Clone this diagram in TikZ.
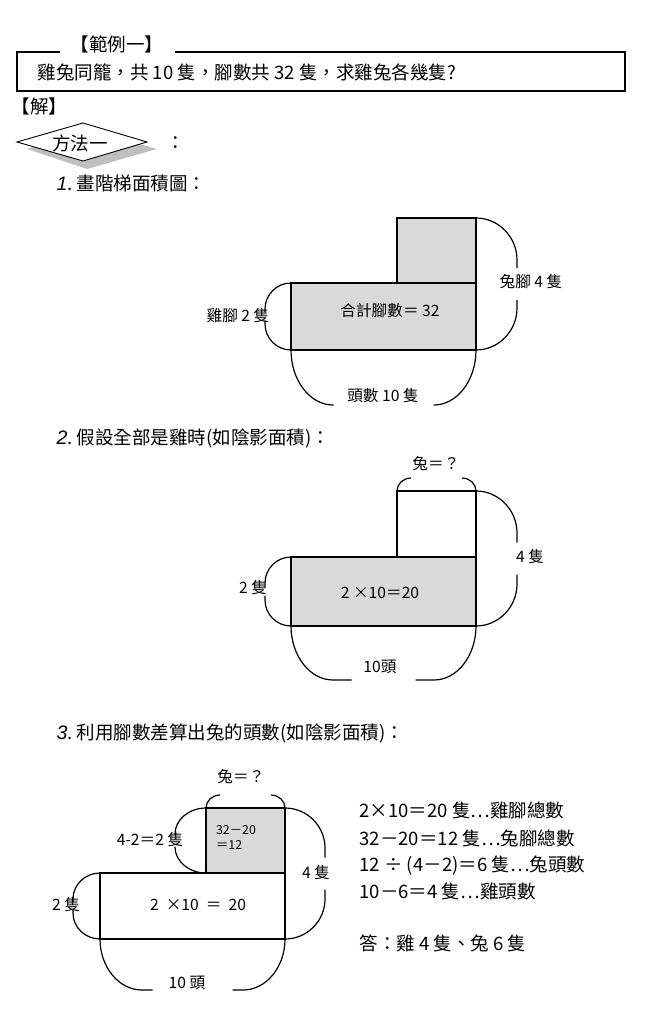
\documentclass[tikz,border=0pt]{standalone}
\usepackage{fontspec}
\setmainfont{Liberation Serif}
\newfontfamily\cjk{Noto Sans CJK TC}[Scale=0.95]
\newfontfamily\numsf{Liberation Sans}
\usetikzlibrary{positioning}
\tikzset{every picture/.style={line width=1.2pt}}
\tikzset{lbl/.style={font=\fontsize{16.5}{19}\selectfont\cjk, inner sep=1pt},
  txt/.style={font=\fontsize{19.5}{24}\selectfont\cjk, inner sep=1pt, anchor=west},
  shade/.style={fill=black!15}}
% vertical bracket: x, ytop, ybot, bulge x, radius, half gap
\newcommand{\vbr}[6]{%
\draw (#1,#2) .. controls ({(#1+#4)/2+0.05*(#4-#1)},#2) and (#4,{#2+0.45*#5}) .. (#4,{#2+#5}) -- (#4,{(#2+#3)/2-#6});
\draw (#4,{(#2+#3)/2+#6}) -- (#4,{#3-#5}) .. controls (#4,{#3-0.45*#5}) and ({(#1+#4)/2+0.05*(#4-#1)},#3) .. (#1,#3);}
% horizontal bracket: y, xleft, xright, bulge y, radius, half gap
\newcommand{\hbr}[6]{%
\draw (#2,#1) .. controls (#2,{(#1+#4)/2+0.05*(#4-#1)}) and ({#2+0.45*#5},#4) .. ({#2+#5},#4) -- ({(#2+#3)/2-#6},#4);
\draw ({(#2+#3)/2+#6},#4) -- ({#3-#5},#4) .. controls ({#3-0.45*#5},#4) and (#3,{(#1+#4)/2+0.05*(#4-#1)}) .. (#3,#1);}

\begin{document}
\begin{tikzpicture}[x=1pt,y=-1pt]
\useasboundingbox (0,0) rectangle (649,1024);

% heading box
\draw (60,52) -- (17,52) -- (17,91) -- (625,91) -- (625,52) -- (175,52);
\node[txt, anchor=center] (title) at (117,44) {【範例一】};
\node[txt] (question) at (36,72) {雞兔同籠，共 10 隻，腳數共 32 隻，求雞兔各幾隻?};
\node[txt] (sol) at (10,106) {【解】};

% method diamond
\fill[black!25] (27,149) -- (87,129) -- (157,149) -- (87,169) -- cycle;
\draw[fill=white, line width=0.9pt] (17,142) -- (83,123) -- (147,142) -- (83,161) -- cycle;
\node[txt, anchor=center] (method) at (80,143) {方法一};
\node[txt] (colon) at (165,143) {：};

% step 1
\node[txt] (step1) at (55,183) {{\numsf\itshape 1}.\ 畫階梯面積圖：};
\draw[shade] (291,283) -- (397,283) -- (397,218) -- (476,218) -- (476,350) -- (291,350) -- cycle;
\draw (397,283) -- (476,283);
\node[lbl] (total) at (390,311) {合計腳數＝ 32};
\vbr{291}{283}{350}{265}{26}{4}
\node[lbl] (chick1) at (238,316) {雞腳 2 隻};
\vbr{476}{218}{350}{517}{42}{16}
\node[lbl] (rabbit1) at (531,282) {兔腳 4 隻};
\hbr{350}{291}{476}{405}{42}{50}
\node[lbl] (head1) at (383,396) {頭數 10 隻};

% step 2
\node[txt] (step2) at (55,438) {{\numsf\itshape 2}.\ 假設全部是雞時(如陰影面積)：};
\draw[shade] (291,557) rectangle (476,626);
\draw (397,557) -- (397,491) -- (476,491) -- (476,557);
\node[lbl] (prod2) at (380,593) {2 ×10＝20};
\hbr{491}{397}{476}{478}{14}{26}
\node[lbl] (rabbit2) at (436,464) {兔＝？};
\vbr{291}{557}{626}{265}{26}{4}
\node[lbl] (chick2) at (253,588) {2 隻};
\vbr{476}{491}{626}{517}{42}{16}
\node[lbl] (feet2) at (530,557) {4 隻};
\hbr{626}{291}{476}{680}{42}{32}
\node[lbl] (head2) at (380,667) {10頭};

% step 3
\node[txt] (step3) at (55,733) {{\numsf\itshape 3}.\ 利用腳數差算出兔的頭數(如陰影面積)：};
\draw (100,873) rectangle (285,939);
\draw[shade] (206,808) rectangle (285,873);
\node[lbl] (prod3) at (198,905) {2 \ ×10 \ ＝ \ 20};
\node[lbl, font=\fontsize{13}{15}\selectfont\cjk, align=left] (diff3) at (236,838) {32－20\\＝12};
\hbr{808}{206}{285}{795}{14}{26}
\node[lbl] (rabbit3) at (241,777) {兔＝？};
\vbr{206}{808}{873}{175}{26}{6}
\node[lbl] (diffleg) at (150,840) {4-2＝2 隻};
\vbr{285}{808}{939}{325}{40}{16}
\node[lbl] (feet3) at (316,873) {4 隻};
\vbr{100}{873}{939}{73}{26}{4}
\node[lbl] (chick3) at (66,905) {2 隻};
\hbr{939}{100}{285}{990}{42}{40}
\node[lbl] (head3) at (187,983) {10 頭};

% answer lines
\node[txt] (a1) at (358,810) {2×10＝20 隻…雞腳總數};
\node[txt] (a2) at (358,838) {32－20＝12 隻…兔腳總數};
\node[txt] (a3) at (358,865) {12 ÷ (4－2)＝6 隻…兔頭數};
\node[txt] (a4) at (358,891) {10－6＝4 隻…雞頭數};
\node[txt] (ans) at (358,943) {答：雞 4 隻、兔 6 隻};
\end{tikzpicture}
\end{document}
